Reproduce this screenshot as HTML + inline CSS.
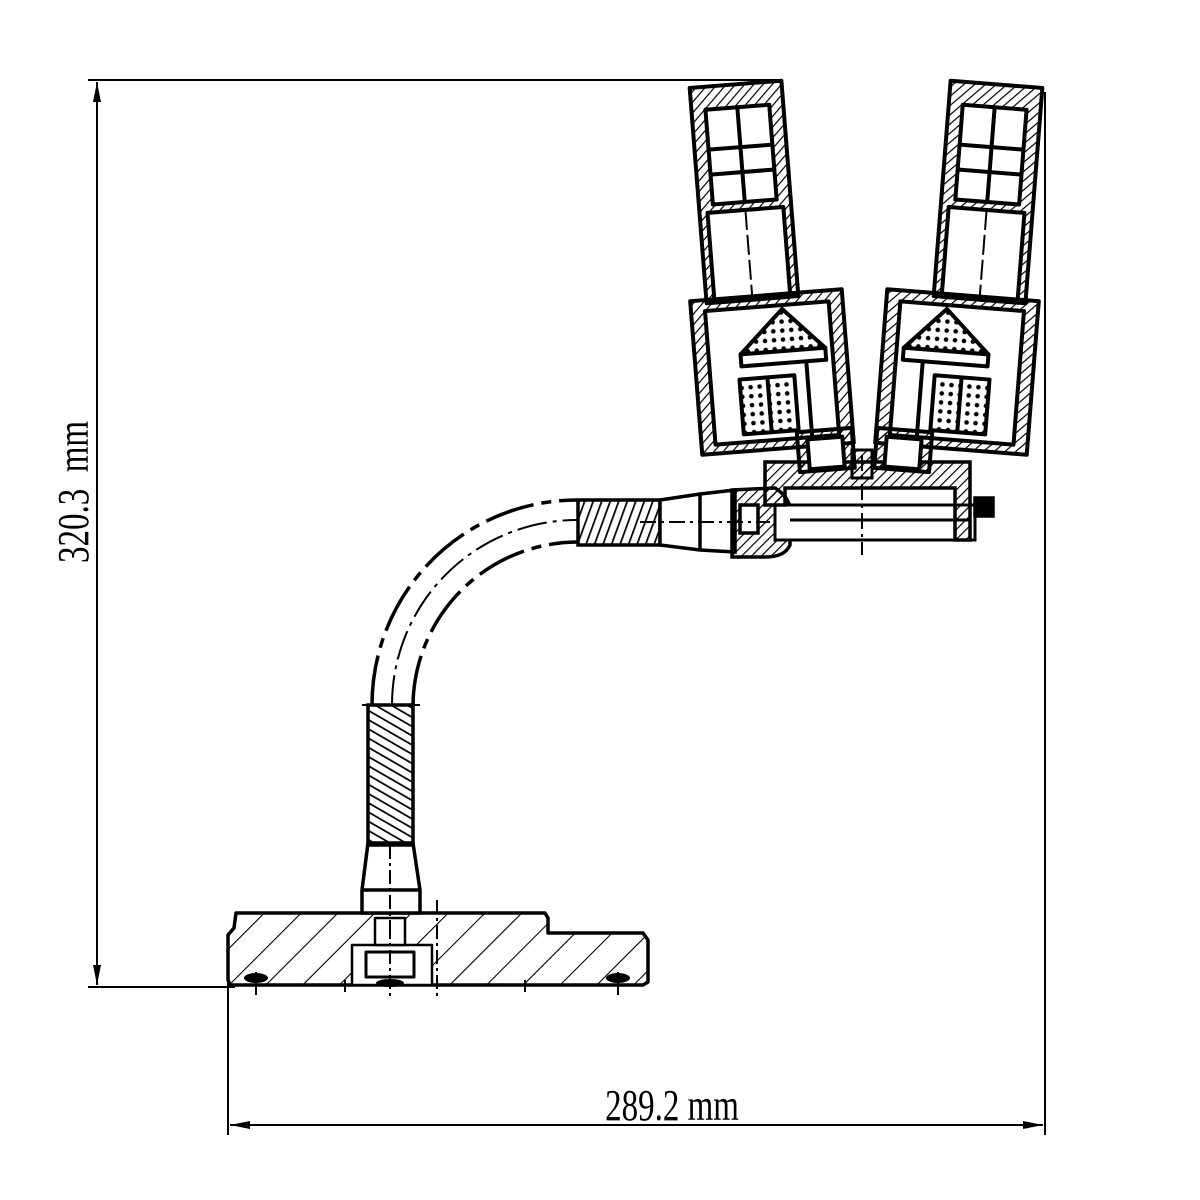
<!DOCTYPE html>
<html><head><style>html,body{margin:0;padding:0;background:#fff}svg{display:block}</style></head>
<body>
<svg width="1200" height="1200" viewBox="0 0 1200 1200" xmlns="http://www.w3.org/2000/svg">
<defs>
<pattern id="h" width="26" height="26" patternUnits="userSpaceOnUse" patternTransform="rotate(45)">
<line x1="0" y1="0" x2="0" y2="26" stroke="#000" stroke-width="2.2"/></pattern>
<pattern id="hs" width="7" height="7" patternUnits="userSpaceOnUse" patternTransform="rotate(45)">
<line x1="0" y1="0" x2="0" y2="7" stroke="#000" stroke-width="2.4"/></pattern>
<pattern id="sp" width="8" height="8" patternUnits="userSpaceOnUse" patternTransform="rotate(-60)">
<line x1="0" y1="0" x2="0" y2="8" stroke="#000" stroke-width="3.5"/></pattern>
<pattern id="sp2" width="8" height="8" patternUnits="userSpaceOnUse" patternTransform="rotate(20)">
<line x1="0" y1="0" x2="0" y2="8" stroke="#000" stroke-width="3.5"/></pattern>
<pattern id="dots" width="9" height="9" patternUnits="userSpaceOnUse">
<circle cx="4.5" cy="4.5" r="2.3" fill="#000"/></pattern>
<marker id="a" viewBox="0 0 20 8" refX="20" refY="4" markerWidth="20" markerHeight="8" markerUnits="userSpaceOnUse" orient="auto-start-reverse"><path d="M0,0 L20,4 L0,8 z" fill="#000"/></marker>
</defs>

<g stroke="#000" stroke-width="2" fill="none">
<line x1="88" y1="80" x2="780" y2="80"/>
<line x1="88" y1="987" x2="235" y2="987"/>
<line x1="97" y1="82" x2="97" y2="985" marker-start="url(#a)" marker-end="url(#a)"/>
<line x1="228" y1="940" x2="228" y2="1135"/>
<line x1="1045" y1="92" x2="1045" y2="1135"/>
<line x1="230" y1="1125" x2="1043" y2="1125" marker-start="url(#a)" marker-end="url(#a)"/>
</g>
<text x="0" y="0" transform="translate(88,492) rotate(-90) scale(0.75,1)" font-family="Liberation Serif, serif" font-size="44" text-anchor="middle">320.3&#160;&#160;mm</text>
<text x="0" y="0" transform="translate(672,1120) scale(0.75,1)" font-family="Liberation Serif, serif" font-size="44" text-anchor="middle">289.2 mm</text>

<!-- base -->
<g stroke="#000" stroke-width="3.5" stroke-linejoin="round">
<path d="M236,913 L545,913 L548,918 L548,933 L643,933 L648,940 L648,982 L643,985 L230,985 L228,980 L228,935 L234,928 Z" fill="url(#h)"/>
<rect x="352" y="945" width="80" height="40" fill="#fff" stroke-width="2.5"/>
<rect x="366" y="952" width="48" height="25" fill="#fff" stroke-width="3"/>
<rect x="375" y="918" width="30" height="27" fill="#fff" stroke-width="2.5"/>
</g>
<g stroke="#000" stroke-width="2" fill="none">
<line x1="390" y1="925" x2="390" y2="998" stroke-dasharray="14,4,3,4"/>
<line x1="437" y1="900" x2="437" y2="998" stroke-dasharray="14,4,3,4"/>
<line x1="256" y1="972" x2="256" y2="995"/><line x1="618" y1="972" x2="618" y2="995"/>
<line x1="345" y1="980" x2="345" y2="992"/><line x1="525" y1="980" x2="525" y2="992"/>
</g>
<ellipse cx="256" cy="978" rx="12" ry="5" fill="#000"/>
<ellipse cx="618" cy="978" rx="12" ry="5" fill="#000"/>
<ellipse cx="390" cy="983" rx="14" ry="4" fill="#000"/>

<g stroke="#000" stroke-width="3.5" fill="#fff">
<path d="M368,843 L413,843 L420,890 L420,913 L362,913 L362,890 Z"/>
<line x1="362" y1="890" x2="420" y2="890"/>
<rect x="368" y="705" width="45" height="140" fill="url(#sp)"/>
</g>
<line x1="390" y1="845" x2="390" y2="935" stroke="#000" stroke-width="2" stroke-dasharray="14,4,3,4"/>
<line x1="362" y1="705" x2="420" y2="705" stroke="#000" stroke-width="2"/>

<g stroke="#000" stroke-width="3.5" fill="none">
<path d="M372,705 A205,205 0 0 1 577,500" stroke-dasharray="50,8,10,8"/>
<path d="M413,705 A165,165 0 0 1 577,542" stroke-dasharray="50,8,10,8"/>
<path d="M392,705 A185,185 0 0 1 577,520" stroke-width="2" stroke-dasharray="30,6,4,6"/>
</g>

<g stroke="#000" stroke-width="3.5">
<rect x="578" y="500" width="82" height="45" fill="url(#sp2)"/>
<path d="M660,500 L700,494 L735,490 L735,552 L700,550 L660,545 Z" fill="#fff"/>
<line x1="700" y1="494" x2="700" y2="550"/>
<path d="M732,490 L775,488 Q795,500 790,525 L790,545 Q785,557 765,557 L732,557 Z" fill="url(#hs)"/>
<rect x="740" y="505" width="18" height="28" fill="#fff"/>
<rect x="775" y="505" width="200" height="35" fill="#fff" stroke-width="3"/>
<line x1="790" y1="520" x2="970" y2="520" stroke-width="3"/>
<path d="M765,462 L970,462 L970,540 L955,540 L955,488 L785,488 L785,505 L765,505 Z" fill="url(#hs)"/>
<rect x="975" y="498" width="18" height="18" fill="#000"/>
</g>
<line x1="640" y1="522" x2="770" y2="522" stroke="#000" stroke-width="2" stroke-dasharray="16,5,3,5"/>
<line x1="862" y1="455" x2="862" y2="555" stroke="#000" stroke-width="2" stroke-dasharray="16,5,3,5"/>

<!-- left eyepiece tube -->
<g transform="translate(744,192) rotate(-4.5)" stroke="#000" stroke-width="4" fill="#fff" stroke-linejoin="round">
<rect x="-46" y="-108" width="92" height="216" fill="url(#hs)"/>
<rect x="-32" y="-85" width="64" height="95"/>
<line x1="0" y1="-85" x2="0" y2="10"/><line x1="-32" y1="-45" x2="32" y2="-45"/><line x1="-32" y1="-20" x2="32" y2="-20"/>
<rect x="-38" y="18" width="76" height="90"/>
<line x1="0" y1="18" x2="0" y2="108" stroke-width="2" stroke-dasharray="20,5"/>
</g>
<!-- left prism box -->
<g transform="translate(772,372) rotate(-4.5)" stroke="#000" stroke-width="4" fill="#fff" stroke-linejoin="round">
<rect x="-76" y="-77" width="152" height="154" fill="url(#hs)"/>
<rect x="-62" y="-66" width="124" height="134"/>
<path d="M15,-62 L55,-20 L-30,-20 Z" fill="url(#dots)"/>
<rect x="-30" y="-20" width="85" height="12"/>
<rect x="-33" y="5" width="55" height="55" fill="url(#dots)"/>
<line x1="-5" y1="5" x2="-5" y2="60"/>
<line x1="35" y1="-8" x2="35" y2="68"/>
<rect x="20" y="62" width="55" height="40" fill="url(#hs)"/>
<rect x="30" y="70" width="35" height="30"/>
</g>
<!-- right eyepiece tube -->
<g transform="translate(988,192) rotate(4.5)" stroke="#000" stroke-width="4" fill="#fff" stroke-linejoin="round">
<rect x="-46" y="-108" width="92" height="216" fill="url(#hs)"/>
<rect x="-32" y="-85" width="64" height="95"/>
<line x1="0" y1="-85" x2="0" y2="10"/><line x1="-32" y1="-45" x2="32" y2="-45"/><line x1="-32" y1="-20" x2="32" y2="-20"/>
<rect x="-38" y="18" width="76" height="90"/>
<line x1="0" y1="18" x2="0" y2="108" stroke-width="2" stroke-dasharray="20,5"/>
</g>
<!-- right prism box -->
<g transform="translate(957,372) rotate(4.5)" stroke="#000" stroke-width="4" fill="#fff" stroke-linejoin="round">
<rect x="-76" y="-77" width="152" height="154" fill="url(#hs)"/>
<rect x="-62" y="-66" width="124" height="134"/>
<path d="M-15,-62 L-55,-20 L30,-20 Z" fill="url(#dots)"/>
<rect x="-55" y="-20" width="85" height="12"/>
<rect x="-22" y="5" width="55" height="55" fill="url(#dots)"/>
<line x1="5" y1="5" x2="5" y2="60"/>
<line x1="-35" y1="-8" x2="-35" y2="68"/>
<rect x="-75" y="62" width="55" height="40" fill="url(#hs)"/>
<rect x="-65" y="70" width="35" height="30"/>
</g>
<rect x="852" y="450" width="20" height="28" fill="url(#hs)" stroke="#000" stroke-width="3"/>
</svg>
</body></html>
